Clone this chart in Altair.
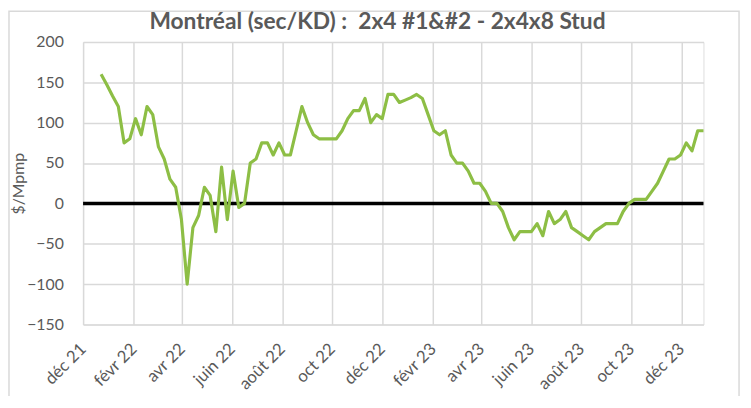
import altair as alt
import pandas as pd

# ---- data ----
titre = "Montréal (sec/KD) :\u00a0 2x4 #1&#2 - 2x4x8 Stud"
titre_y = "$/Mpmp"
debut = "2021-12-23"          # first weekly observation
valeurs = [
    160, 147, 133, 120, 75, 80, 105, 85, 120, 110, 70, 55, 30, 20, -20, -100,
    -30, -15, 20, 10, -35, 45, -20, 40, -5, 0,
    50, 55, 75, 75, 60, 75, 60, 60, 90, 120, 100, 85, 80, 80, 80, 80,
    90, 105, 115, 115, 130, 100, 110, 105, 135, 135, 125, 128, 131, 135, 130, 110,
    90, 85, 90, 60, 50, 50, 40, 25, 25, 15, 0, 0, -10, -30, -45, -35,
    -35, -35, -25, -40, -10, -25, -20, -10, -30, -35, -40, -45, -35, -30, -25, -25,
    -25, -10, 0, 5, 5, 5, 15, 25, 40, 55, 55, 60, 75, 65, 90, 90,
]
mois = ["janv", "févr", "mars", "avr", "mai", "juin", "juil", "août", "sept", "oct", "nov", "déc"]
graduations = [(2021, 12), (2022, 2), (2022, 4), (2022, 6), (2022, 8), (2022, 10), (2022, 12),
               (2023, 2), (2023, 4), (2023, 6), (2023, 8), (2023, 10), (2023, 12)]
y_ticks = [-150, -100, -50, 0, 50, 100, 150, 200]
ligne_zero = [0]

dates = pd.date_range(debut, periods=len(valeurs), freq="7D")
df = pd.DataFrame({"date": dates.strftime("%Y-%m-%d"), "valeur": valeurs})
df_zero = pd.DataFrame({"valeur": ligne_zero})

FONT = "Lato"
GRIS = "#595959"
GRILLE = "#d9d9d9"
VERT = "#8DBE45"

mois_js = "[" + ",".join("'" + m + "'" for m in mois) + "]"
x_enc = alt.X(
    "date:T",
    scale=alt.Scale(
        type="utc",
        domain=[alt.DateTime(year=2021, month=12, date=1, utc=True),
                alt.DateTime(year=int(dates[-1].year), month=int(dates[-1].month),
                             date=int(dates[-1].day), utc=True)],
    ),
    axis=alt.Axis(
        title=None,
        values=[alt.DateTime(year=y, month=m, date=1, utc=True) for y, m in graduations],
        labelExpr=mois_js + "[utcmonth(datum.value)] + ' ' + utcFormat(datum.value, '%y')",
        labelAngle=-45,
        labelAlign="right",
        labelBaseline="middle",
        labelPadding=22,
        labelFont=FONT,
        labelFontSize=17,
        labelColor=GRIS,
        ticks=False,
        domain=False,
        grid=True,
        gridColor=GRILLE,
        gridWidth=1.5,
        labelOverlap=False,
        labelBound=False,
        labelFlush=False,
    ),
)

y_enc = alt.Y(
    "valeur:Q",
    scale=alt.Scale(domain=[-150, 200], nice=False, zero=False),
    axis=alt.Axis(
        title=titre_y,
        values=y_ticks,
        titleFont=FONT,
        titleFontSize=16,
        titleFontWeight="normal",
        titleColor=GRIS,
        titleX=-65,
        titleY=143,
        titleAngle=270,
        titleAlign="center",
        titleBaseline="middle",
        labelFont=FONT,
        labelFontSize=16,
        labelColor=GRIS,
        labelPadding=20,
        ticks=False,
        domain=False,
        grid=True,
        gridColor=GRILLE,
        gridWidth=1.5,
    ),
)

line = alt.Chart(df).mark_line(color=VERT, strokeWidth=3.2, strokeJoin="round").encode(
    x=x_enc, y=y_enc
)

zero = alt.Chart(df_zero).mark_rule(color="black", strokeWidth=3.5).encode(y=y_enc)

border = alt.Chart(df_zero).mark_rect(fill=None, stroke=GRILLE, strokeWidth=1.5).encode(
    x=alt.value(-75), x2=alt.value(664), y=alt.value(-31), y2=alt.value(365)
)

chart = alt.layer(border, zero, line).properties(
    width=628,
    height=286,
    title=alt.TitleParams(
        text=titre,
        font=FONT,
        fontSize=23,
        fontWeight="bold",
        color=GRIS,
        anchor="middle",
        baseline="alphabetic",
        offset=-42,
        dx=-16,
    ),
    autosize=alt.AutoSizeParams(type="none"),
    padding={"left": 76, "top": 32, "right": 40, "bottom": 70},
).configure_view(stroke=None).configure(background="white")

chart.save("out.html", embed_options={"renderer": "svg", "actions": False})
